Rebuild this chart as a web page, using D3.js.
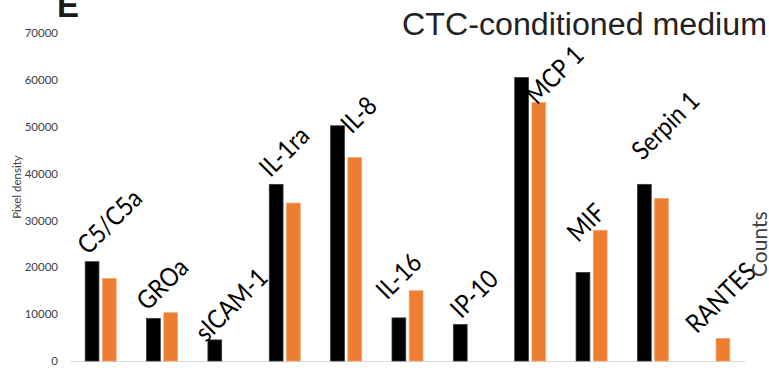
<!DOCTYPE html>
<html>
<head>
<meta charset="utf-8">
<script src="https://cdn.jsdelivr.net/npm/d3@7/dist/d3.min.js"></script>
<style>
  html, body { margin: 0; padding: 0; background: #fff; }
  svg { display: block; }
</style>
</head>
<body>
<svg id="chart" width="769" height="368"></svg>
<script>
// Cytokine array readout: pixel density per analyte, two conditions
const categories = ["C5/C5a", "GROa", "sICAM-1", "IL-1ra", "IL-8", "IL-16", "IP-10", "MCP 1", "MIF", "Serpin 1", "RANTES"];
const seriesKeys = ["control", "conditioned"];
const controlValues     = [21200, 9100, 4500, 37700, 50200, 9200, 7800, 60500, 18900, 37700, 0];
const conditionedValues = [17600, 10300, 0, 33700, 43400, 15000, 0, 55200, 27900, 34700, 4800];
const yTicks = [0, 10000, 20000, 30000, 40000, 50000, 60000, 70000];

// Hand-tuned nudges for the slanted analyte labels (dx, dy from the first bar's top-left)
const labelNudges = [[3, -6], [1, -1], [-2, 3], [1, -6], [21, 9], [-5, 10], [8, -5], [22, 28], [2, 13], [5, -23], [-2, -4]];

const colors = { control: "#000000", conditioned: "#ED7D31" };
const strokes = { control: "#3a3a3a", conditioned: "#F4A46E" };

const svg = d3.select("#chart");

const x0 = d3.scaleBand().domain(categories).range([70, 745]).padding(0);
const x1 = d3.scaleBand().domain(seriesKeys).range([0, 31]).paddingInner(0.2);
const y = d3.scaleLinear().domain([0, 70000]).range([361, 33]);

const rows = categories.map((c, i) => ({
  category: c,
  control: controlValues[i],
  conditioned: conditionedValues[i]
}));

// Y axis: labels only, no line or ticks
const yAxis = d3.axisLeft(y).tickValues(yTicks).tickFormat(d3.format("d")).tickSize(0).tickPadding(0);
const yg = svg.append("g").attr("transform", "translate(58,0)").call(yAxis);
yg.select(".domain").remove();
yg.selectAll("text")
  .attr("fill", "#404040")
  .style("font-family", "Lato, 'Open Sans', sans-serif")
  .style("font-size", "11.5px");

// Baseline
svg.append("line")
  .attr("x1", 70).attr("x2", 745)
  .attr("y1", y(0) + 0.5).attr("y2", y(0) + 0.5)
  .attr("stroke", "#d9d9d9").attr("stroke-width", 1);

// Bars
const groupOffset = (x0.bandwidth() - 31) / 2;
const groups = svg.append("g").selectAll("g")
  .data(rows)
  .join("g")
  .attr("transform", d => `translate(${x0(d.category) + groupOffset},0)`);

groups.selectAll("rect")
  .data(d => seriesKeys.map(k => ({ key: k, value: d[k] })).filter(e => e.value > 0))
  .join("rect")
  .attr("x", e => x1(e.key))
  .attr("y", e => y(e.value))
  .attr("width", x1.bandwidth())
  .attr("height", e => y(0) - y(e.value))
  .attr("fill", e => colors[e.key])
  .attr("stroke", e => strokes[e.key])
  .attr("stroke-width", 0.8);

// Slanted analyte labels above each pair (slightly condensed along the baseline)
svg.append("g").selectAll("text")
  .data(rows)
  .join("text")
  .attr("transform", (d, i) => {
    const lx = x0(d.category) + groupOffset + x1("control") + labelNudges[i][0];
    const ly = y(Math.max(d.control, d.conditioned)) + labelNudges[i][1];
    return `translate(${lx},${ly}) rotate(-45) scale(0.88,1)`;
  })
  .attr("fill", "#000")
  .style("font-family", "Lato, 'Open Sans', sans-serif")
  .style("font-size", "26px")
  .text(d => d.category);

// Y axis title
svg.append("text")
  .attr("transform", "translate(21,187) rotate(-90)")
  .attr("text-anchor", "middle")
  .attr("fill", "#404040")
  .style("font-family", "Lato, 'Open Sans', sans-serif")
  .style("font-size", "11.5px")
  .text("Pixel density");

// Secondary axis title at the right edge
svg.append("text")
  .attr("transform", "translate(767,277) rotate(-90)")
  .attr("fill", "#404040")
  .style("font-family", "Lato, 'Open Sans', sans-serif")
  .style("font-size", "21px")
  .text("Counts");

// Panel letter and title
svg.append("text")
  .attr("x", 57).attr("y", 17)
  .attr("fill", "#1a1a1a")
  .style("font-family", "'Liberation Sans', Arial, sans-serif")
  .style("font-weight", "bold")
  .style("font-size", "33px")
  .text("E");

svg.append("text")
  .attr("x", 402).attr("y", 35)
  .attr("fill", "#222")
  .attr("textLength", 365)
  .attr("lengthAdjust", "spacingAndGlyphs")
  .style("font-family", "'Liberation Sans', Arial, sans-serif")
  .style("font-size", "31px")
  .text("CTC-conditioned medium");
</script>
</body>
</html>
